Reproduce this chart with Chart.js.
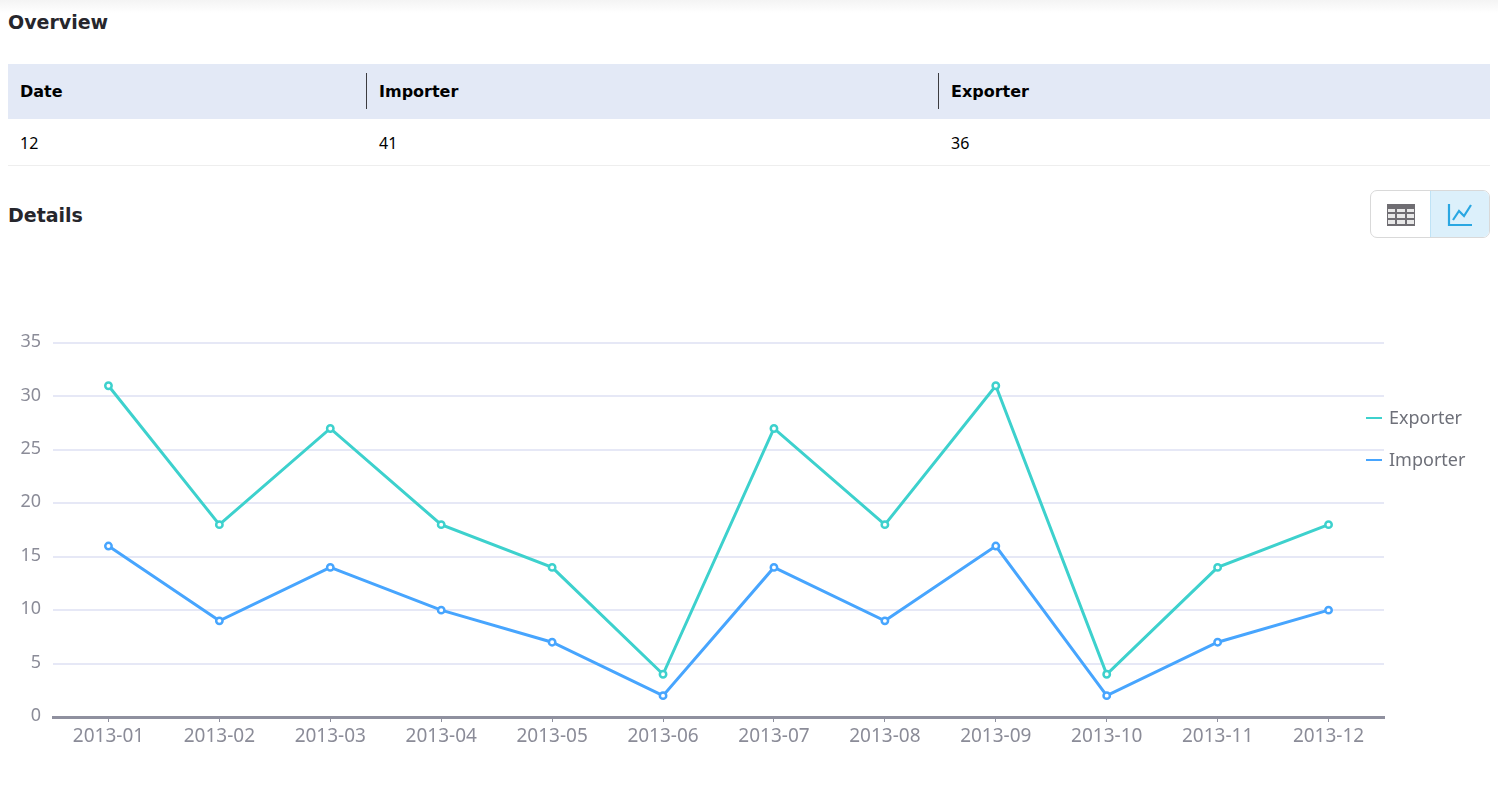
<!DOCTYPE html>
<html>
<head>
<meta charset="utf-8">
<title>Overview</title>
<script src="https://cdn.jsdelivr.net/npm/chart.js@4/dist/chart.umd.min.js"></script>
<style>
    html, body { margin: 0; padding: 0; background: #fff; overflow: hidden; }
    body { width: 1498px; height: 786px; position: relative; font-family: "Noto Sans", sans-serif; color: #000; }
    .top-shade { position: absolute; left: 0; top: 0; width: 100%; height: 13px; background: linear-gradient(#f4f4f4, #fff); }
    h2 { position: absolute; left: 8px; margin: 0; font-family: "DejaVu Sans", sans-serif; font-size: 19px; line-height: 28px; font-weight: 700; color: #26262c; }
    table { position: absolute; left: 8px; top: 64px; width: 1482px; border-collapse: collapse; table-layout: fixed; font-size: 16px; }
    th, td { box-sizing: border-box; }
    th { height: 55px; background: #e3e9f6; text-align: left; padding: 0 0 0 12px; position: relative; font-family: "DejaVu Sans", sans-serif; font-weight: 700; }
    th + th { padding-left: 13px; }
    td + td { padding-left: 13px; }
    th + th::before { content: ""; position: absolute; left: 0; top: 9px; height: 36px; width: 1px; background: #3c3c40; }
    td { height: 46px; padding: 2px 0 0 12px; border-bottom: 1px solid #eeeeee; }
    .switch { position: absolute; left: 1370px; top: 190px; width: 118px; height: 46px; border: 1px solid #d9d9d9; border-radius: 7px; overflow: hidden; }
    .switch div { position: absolute; top: 0; height: 46px; }
    .switch .tbl { left: 0; width: 59px; }
    .switch .line { left: 59px; width: 59px; background: #dcf0fb; border-left: 1px solid #bfe3f6; }
    #chartBox { position: absolute; left: 0; top: 260px; width: 1498px; height: 526px; }
</style>
</head>
<body>
<div class="top-shade"></div>
<h2 style="top:8px">Overview</h2>
<table id="overview"><thead><tr id="headRow"></tr></thead><tbody><tr id="bodyRow"></tr></tbody></table>
<h2 style="top:201px">Details</h2>
<div class="switch">
    <div class="tbl"><svg width="59" height="46" viewBox="0 0 59 46">
        <rect x="16" y="13" width="28" height="22" fill="#6f6d72"/>
        <g fill="#e8e8e8">
            <rect x="17" y="18" width="7" height="3"/><rect x="26" y="18" width="8" height="3"/><rect x="36" y="18" width="7" height="3"/>
            <rect x="17" y="23" width="7" height="4"/><rect x="26" y="23" width="8" height="4"/><rect x="36" y="23" width="7" height="4"/>
            <rect x="17" y="29" width="7" height="4"/><rect x="26" y="29" width="8" height="4"/><rect x="36" y="29" width="7" height="4"/>
        </g>
    </svg></div>
    <div class="line"><svg width="59" height="46" viewBox="0 0 59 46" fill="none" stroke="#2aa7e2" stroke-width="2.2">
        <path d="M18 13V34H41"/>
        <path d="M22 29L28 20L33 25L40 14"/>
    </svg></div>
</div>
<div id="chartBox"><canvas id="detailsChart"></canvas></div>

<script>
const tableHead = ['Date', 'Importer', 'Exporter'];
const tableRow = ['12', '41', '36'];
const colWidths = [358, 572, 552];

const months = ['2013-01', '2013-02', '2013-03', '2013-04', '2013-05', '2013-06',
    '2013-07', '2013-08', '2013-09', '2013-10', '2013-11', '2013-12'];
const exporter = [31, 18, 27, 18, 14, 4, 27, 18, 31, 4, 14, 18];
const importer = [16, 9, 14, 10, 7, 2, 14, 9, 16, 2, 7, 10];

tableHead.forEach(function(text, i) {
    const th = document.createElement('th');
    th.textContent = text;
    th.style.width = colWidths[i] + 'px';
    document.getElementById('headRow').appendChild(th);
    const td = document.createElement('td');
    td.textContent = tableRow[i];
    document.getElementById('bodyRow').appendChild(td);
});

// legend sits high on the right, not centred on the chart, so it is drawn here
const sideLegend = {
    id: 'sideLegend',
    afterDraw: function(chart) {
        const ctx = chart.ctx;
        ctx.save();
        ctx.font = '18px "Noto Sans", sans-serif';
        ctx.textBaseline = 'middle';
        chart.data.datasets.forEach(function(ds, i) {
            const y = 158 + i * 42;
            ctx.strokeStyle = ds.borderColor;
            ctx.lineWidth = 2;
            ctx.beginPath();
            ctx.moveTo(1366, y);
            ctx.lineTo(1382, y);
            ctx.stroke();
            ctx.fillStyle = '#6e7079';
            ctx.fillText(ds.label, 1389, y + 1);
        });
        ctx.restore();
    }
};

Chart.defaults.font.family = '"Noto Sans", sans-serif';

new Chart(document.getElementById('detailsChart').getContext('2d'), {
    type: 'line',
    data: {
        labels: months,
        datasets: [
            {
                label: 'Exporter',
                data: exporter,
                borderColor: '#3dd1cd',
                backgroundColor: '#ffffff',
                borderWidth: 3,
                pointRadius: 3.2,
                pointBorderWidth: 2.5,
                tension: 0
            },
            {
                label: 'Importer',
                data: importer,
                borderColor: '#47a5fe',
                backgroundColor: '#ffffff',
                borderWidth: 3,
                pointRadius: 3.2,
                pointBorderWidth: 2.5,
                tension: 0
            }
        ]
    },
    options: {
        responsive: true,
        maintainAspectRatio: false,
        animation: false,
        layout: { padding: { top: 83, right: 114, left: 0, bottom: 0 } },
        plugins: {
            legend: { display: false },
            tooltip: { enabled: false }
        },
        scales: {
            x: {
                offset: true,
                afterFit: function(scale) { scale.height = 69; },
                border: { color: '#8f909f', width: 3 },
                grid: { offset: false, drawOnChartArea: false, color: '#8f909f', tickLength: 5, tickWidth: 1 },
                ticks: { color: '#8b8c98', font: { size: 19 }, padding: 3, maxRotation: 0, autoSkip: false }
            },
            y: {
                min: 0,
                max: 35,
                afterFit: function(scale) { scale.width = 53; },
                border: { display: false },
                grid: { color: '#e6e8f6', lineWidth: 2, tickLength: 0 },
                ticks: { stepSize: 5, color: '#8b8c98', font: { size: 18 }, padding: 12, labelOffset: -1 }
            }
        }
    },
    plugins: [sideLegend]
});
</script>
</body>
</html>
